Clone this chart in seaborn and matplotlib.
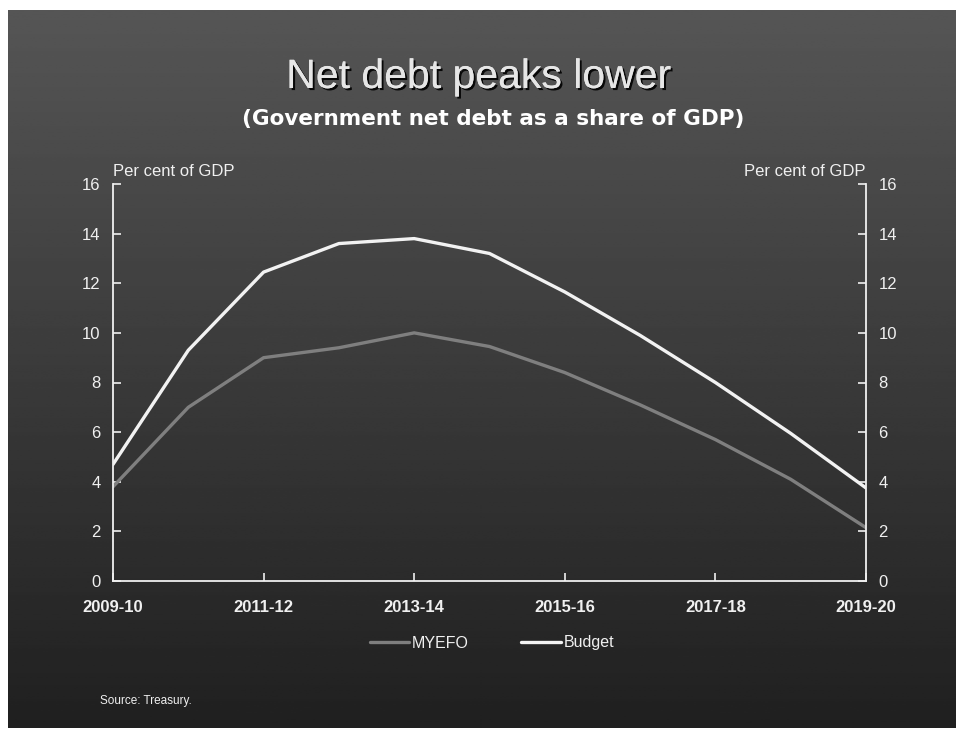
import numpy as np
import pandas as pd
import matplotlib
matplotlib.use("Agg")
import matplotlib.pyplot as plt
import matplotlib.patheffects as pe
import seaborn as sns

# Financial years and projections (per cent of GDP)
years = ["2009-10", "2010-11", "2011-12", "2012-13", "2013-14", "2014-15",
         "2015-16", "2016-17", "2017-18", "2018-19", "2019-20"]
myefo = [3.8, 7.0, 9.0, 9.4, 10.0, 9.45, 8.4, 7.1, 5.7, 4.1, 2.15]
budget = [4.7, 9.3, 12.45, 13.6, 13.8, 13.2, 11.65, 9.9, 8.0, 5.95, 3.75]
tick_years = ["2009-10", "2011-12", "2013-14", "2015-16", "2017-18", "2019-20"]
y_ticks = [0, 2, 4, 6, 8, 10, 12, 14, 16]

series_names = ["MYEFO", "Budget"]
series_colors = {"MYEFO": "#7f7f7f", "Budget": "#f2f2f2"}

df = pd.DataFrame({
    "idx": list(range(len(years))) * 2,
    "value": myefo + budget,
    "series": ["MYEFO"] * len(years) + ["Budget"] * len(years),
})

sns.set_theme(style="white")
plt.rcParams["font.family"] = ["Liberation Sans", "DejaVu Sans"]

W, H = 956, 732
fig = plt.figure(figsize=(W / 100, H / 100), dpi=100)
fig.patch.set_facecolor("white")

# Dark vertical gradient panel behind everything
bg = fig.add_axes([8 / W, (H - 728) / H, (W - 8) / W, (728 - 10) / H], zorder=-10)
grad = np.linspace(0.335, 0.125, 256).reshape(-1, 1)
bg.imshow(np.repeat(grad, 2, axis=1), cmap="gray", vmin=0, vmax=1,
          aspect="auto", extent=[0, 1, 0, 1], origin="upper")
bg.set_axis_off()

ax = fig.add_axes([113 / W, (H - 581) / H, (866 - 113) / W, (581 - 184) / H])
ax.patch.set_alpha(0)

sns.lineplot(data=df, x="idx", y="value", hue="series", hue_order=series_names,
             palette=series_colors, linewidth=2.4, ax=ax, legend=False)

ax.set_xlim(0, len(years) - 1)
ax.set_ylim(0, 16)
ax.set_xticks([years.index(t) for t in tick_years])
ax.set_xticklabels(tick_years, fontweight="bold")
ax.set_yticks(y_ticks)
ax.set_xlabel("")
ax.set_ylabel("")

for side in ["left", "right", "bottom"]:
    ax.spines[side].set_visible(True)
    ax.spines[side].set_color("#f0f0f0")
    ax.spines[side].set_linewidth(1.3)
ax.spines["top"].set_visible(False)

ax.tick_params(axis="y", which="both", direction="in", length=6, width=1.2,
               color="#f0f0f0", left=True, right=True, labelleft=True,
               labelright=True, labelsize=12, labelcolor="#f0f0f0", pad=9)
ax.tick_params(axis="x", direction="in", length=6, width=1.2, color="#f0f0f0",
               bottom=True, labelsize=12, labelcolor="#f0f0f0", pad=14)

ax.text(0, 1.012, "Per cent of GDP", transform=ax.transAxes, ha="left",
        va="bottom", color="#f0f0f0", fontsize=12)
ax.text(1, 1.012, "Per cent of GDP", transform=ax.transAxes, ha="right",
        va="bottom", color="#f0f0f0", fontsize=12)

fig.text(479 / W, 1 - 77 / H, "Net debt peaks lower", ha="center", va="center",
         color="#e6e6e6", fontsize=29.5,
         path_effects=[pe.withSimplePatchShadow(offset=(1.5, -1.5),
                                                shadow_rgbFace="black", alpha=0.9),
                       pe.Normal()])
fig.text(493 / W, 1 - 119 / H, "(Government net debt as a share of GDP)",
         ha="center", va="center", color="white", fontsize=15.5,
         fontweight="bold", family=["DejaVu Sans"])

handles = [plt.Line2D([], [], color=series_colors[s], linewidth=2.4)
           for s in series_names]
leg = fig.legend(handles, series_names, loc="center",
                 bbox_to_anchor=(492 / W, 1 - 643 / H), ncol=2, frameon=False,
                 handlelength=2.5, handletextpad=0.15, columnspacing=3.3,
                 fontsize=11.5)
for t in leg.get_texts():
    t.set_color("#f0f0f0")

fig.text(100 / W, 1 - 701 / H, "Source: Treasury.", ha="left", va="center",
         color="#f0f0f0", fontsize=8.5)

fig.savefig("out.png", dpi=100, facecolor=fig.get_facecolor())
